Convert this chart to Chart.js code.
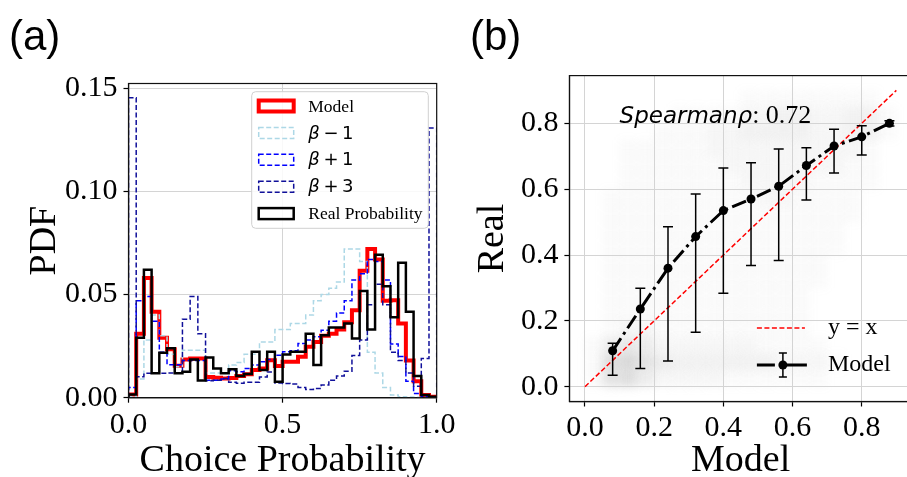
<!DOCTYPE html>
<html><head><meta charset="utf-8">
<script src="https://cdn.jsdelivr.net/npm/chart.js@4.4.1/dist/chart.umd.min.js"></script>
<style>
html,body{margin:0;padding:0;background:#fff;overflow:hidden;width:907px;height:477px;position:relative}
#ca{position:absolute;left:0;top:0}
#cb{position:absolute;left:453px;top:0}
</style></head>
<body>
<canvas id="ca"></canvas><canvas id="cb"></canvas>
<script>
// ---------------- Panel (a) data: 40-bin step histograms ----------------
const binEdges = [0,0.025,0.05,0.075,0.1,0.125,0.15,0.175,0.2,0.225,0.25,0.275,0.3,0.325,0.35,0.375,0.4,0.425,0.45,0.475,0.5,
  0.525,0.55,0.575,0.6,0.625,0.65,0.675,0.7,0.725,0.75,0.775,0.8,0.825,0.85,0.875,0.9,0.925,0.95,0.975,1.0];
const histModel = [0.0015,0.031,0.058,0.0416,0.029,0.0235,0.0155,0.0185,0.019,0.019,0.010,0.0097,0.0093,0.0095,0.0105,0.0114,0.0134,0.0142,0.0182,0.0153,
  0.0174,0.0174,0.0198,0.0247,0.027,0.030,0.031,0.033,0.0365,0.0424,0.0615,0.072,0.067,0.047,0.0472,0.036,0.018,0.008,0.0013,0.0005];
const histBetaM1 = [0.0005,0.009,0.028,0.040,0.030,0.021,0.015,0.023,0.023,0.023,0.012,0.012,0.0118,0.0158,0.017,0.021,0.021,0.027,0.027,0.033,
  0.033,0.036,0.036,0.040,0.047,0.050,0.053,0.056,0.072,0.072,0.066,0.022,0.012,0.005,0.0013,0.0005,0.0003,0.0002,0.0001,0.0001];
const histBetaP1 = [0.005,0.047,0.049,0.037,0.022,0.016,0.016,0.018,0.018,0.018,0.0085,0.0085,0.009,0.013,0.0126,0.0142,0.0158,0.0174,0.0185,0.0206,
  0.0222,0.0227,0.0263,0.028,0.0295,0.0327,0.037,0.041,0.047,0.057,0.060,0.067,0.066,0.057,0.026,0.020,0.008,0.002,0.0005,0.0002];
const histBetaP3 = [0.1453,0.0102,0.0118,0.0118,0.0118,0.012,0.012,0.038,0.049,0.031,0.0082,0.0085,0.0093,0.0075,0.007,0.0075,0.0075,0.010,0.0125,0.0071,
  0.0069,0.0066,0.005,0.004,0.0045,0.0062,0.0085,0.0105,0.0128,0.0205,0.028,0.045,0.055,0.045,0.022,0.018,0.012,0.0055,0.019,0.1306];
const histReal = [0.0015,0.029,0.062,0.0118,0.0218,0.0239,0.0118,0.0126,0.0185,0.0083,0.0195,0.0142,0.0118,0.0138,0.0105,0.0115,0.0222,0.0134,0.0222,0.0077,
  0.0209,0.0222,0.0222,0.031,0.0158,0.0303,0.034,0.034,0.036,0.0287,0.0517,0.033,0.0693,0.054,0.039,0.0654,0.0416,0.0105,0.0013,0.0005];
const pdfTicks = [0, 0.05, 0.10, 0.15];
const pdfTickLabels = ['0.00','0.05','0.10','0.15'];
const probTicks = [0, 0.5, 1.0];
const probTickLabels = ['0.0','0.5','1.0'];
const histLabels = ['Model','β − 1','β + 1','β + 3','Real Probability'];

// ---------------- Panel (b) data ----------------
const modelX    = [0.08,0.16,0.24,0.32,0.40,0.48,0.56,0.64,0.72,0.80,0.88];
const modelY    = [0.109,0.236,0.360,0.456,0.535,0.570,0.609,0.672,0.731,0.759,0.800];
const modelHigh = [0.132,0.299,0.486,0.585,0.664,0.680,0.722,0.726,0.782,0.793,0.808];
const modelLow  = [0.035,0.055,0.078,0.165,0.284,0.368,0.383,0.567,0.649,0.704,0.792];
const identityX = [0, 0.9];
const bTicks = [0, 0.2, 0.4, 0.6, 0.8];
const bTickLabels = ['0.0','0.2','0.4','0.6','0.8'];
const spearmanValue = '0.72';
// background scatter density (rows: y bands from 0.85-0.90 down to 0.00-0.05; cols: x bands 0.00-0.05 ... 0.85-0.90)
const cloudBandLowY = [0.85,0.80,0.75,0.70,0.65,0.60,0.55,0.50,0.45,0.40,0.35,0.30,0.25,0.20,0.15,0.10,0.05,0.00];
const cloudBandLowX = [0,0.05,0.1,0.15,0.2,0.25,0.3,0.35,0.4,0.45,0.5,0.55,0.6,0.65,0.7,0.75,0.8,0.85];
const cloudDensity = [
 [0,0,0,0,0,0,0,0,0,1,1,1,1,1,1,1,1,0],
 [0,0,0,0,0,1,1,1,1,2,2,3,3,2,2,3,3,1],
 [0,0,0,0,1,1,1,2,2,3,3,3,3,2,2,3,3,1],
 [0,0,1,1,1,1,1,2,2,2,2,2,2,2,2,2,1,0],
 [0,0,1,1,1,1,1,1,2,2,2,2,2,2,2,1,1,0],
 [0,0,1,1,1,1,1,1,1,2,2,2,2,1,1,1,1,0],
 [0,1,1,1,1,1,1,1,1,1,2,2,1,1,1,1,0,0],
 [0,1,1,1,1,1,1,1,1,1,1,1,1,1,1,1,0,0],
 [0,1,1,1,1,1,1,1,1,1,1,1,1,1,1,0,0,0],
 [0,1,1,1,1,1,1,1,1,1,1,1,1,1,1,0,0,0],
 [0,1,1,1,1,1,1,1,1,1,1,1,1,1,0,0,0,0],
 [0,1,1,1,1,1,1,1,1,1,1,1,1,1,0,0,0,0],
 [0,1,1,1,1,1,1,1,1,1,1,1,1,0,0,0,0,0],
 [0,1,1,1,1,1,1,1,1,1,1,1,1,0,0,0,0,0],
 [0,1,2,2,1,1,1,1,1,1,1,1,1,0,0,0,0,0],
 [1,4,5,4,2,2,2,2,2,2,1,1,1,1,0,0,0,0],
 [1,7,8,6,4,3,3,3,3,3,3,2,2,2,1,0,0,0],
 [1,6,7,4,2,2,2,2,1,1,1,1,1,1,0,0,0,0]
];

// ---------------- helpers ----------------
const SERIF = "'Liberation Serif','Times New Roman',serif";
const SANS = "'Liberation Sans',Arial,sans-serif";
const DJV = "'DejaVu Sans',sans-serif";
const GRID = '#d4d4d4';

function setup(id, w, h){
  const c = document.getElementById(id);
  c.width = w; c.height = h; c.style.width = w+'px'; c.style.height = h+'px';
  return c;
}
function stepPoints(vals){
  const n = binEdges.length - 1;
  const pts = [{x: binEdges[0], y: 0}];
  vals.forEach((v,i) => pts.push({x: binEdges[i], y: v}));
  pts.push({x: binEdges[n], y: vals[n-1]});
  pts.push({x: binEdges[n], y: 0});
  return pts;
}
function histDS(label, vals, color, width, dash, order){
  return {label, data: stepPoints(vals), borderColor: color, borderWidth: width, borderDash: dash,
    stepped: 'before', pointRadius: 0, fill: false, tension: 0, order,
    borderJoinStyle: 'miter', borderCapStyle: 'butt'};
}
function axisCommon(ticks, labels, font){
  return {
    type: 'linear',
    afterBuildTicks: s => { s.ticks = ticks.map(v => ({value: v})); },
    ticks: {callback: (v, i) => labels[i], font: {family: SERIF, size: font}, color: '#000',
      autoSkip: false, maxRotation: 0, padding: 4},
    grid: {color: GRID, lineWidth: 1, borderDash: [4,2.5], tickLength: 5, tickColor: '#000', tickWidth: 1.2, tickBorderDash: []},
    border: {display: true, color: '#111', width: 1.2}
  };
}
const frame = {
  id: 'frame',
  afterDraw(chart){
    const {ctx, chartArea: a} = chart;
    ctx.save(); ctx.strokeStyle = '#111'; ctx.lineWidth = 1.2;
    ctx.strokeRect(a.left, a.top, a.right - a.left, a.bottom - a.top);
    ctx.restore();
  }
};

// ---------------- Panel (a) ----------------
const legendA = {
  id: 'legendA',
  afterDraw(chart){
    const {ctx, chartArea: a} = chart;
    const x0 = a.right - 185, y0 = a.top + 8.2, w = 176.6, h = 136.6, r = 4;
    ctx.save();
    ctx.beginPath();
    ctx.moveTo(x0+r, y0); ctx.lineTo(x0+w-r, y0); ctx.quadraticCurveTo(x0+w, y0, x0+w, y0+r);
    ctx.lineTo(x0+w, y0+h-r); ctx.quadraticCurveTo(x0+w, y0+h, x0+w-r, y0+h);
    ctx.lineTo(x0+r, y0+h); ctx.quadraticCurveTo(x0, y0+h, x0, y0+h-r);
    ctx.lineTo(x0, y0+r); ctx.quadraticCurveTo(x0, y0, x0+r, y0); ctx.closePath();
    ctx.fillStyle = 'rgba(255,255,255,0.85)'; ctx.fill();
    ctx.strokeStyle = '#d0d0d0'; ctx.lineWidth = 1; ctx.stroke();
    const styles = [
      {c:'#ff0000', w:4, d:[]},
      {c:'#add8e6', w:1.5, d:[5,2.5]},
      {c:'#0000ff', w:1.5, d:[5,2.5]},
      {c:'#10109a', w:1.5, d:[5,2.5]},
      {c:'#000000', w:2.5, d:[]}
    ];
    styles.forEach((s, k) => {
      const cy = y0 + 14.3 + k*26.9;
      ctx.strokeStyle = s.c; ctx.lineWidth = s.w; ctx.setLineDash(s.d);
      ctx.strokeRect(x0 + 7, cy - 5.5, 35, 11);
      ctx.setLineDash([]);
      ctx.fillStyle = '#000'; ctx.textBaseline = 'middle'; ctx.textAlign = 'left';
      const tx = x0 + 56.6;
      const lab = histLabels[k];
      if (lab.startsWith('β')) {
        ctx.font = 'italic 18px ' + DJV;
        ctx.fillText('β', tx, cy + 1);
        const bw = ctx.measureText('β').width;
        ctx.font = '18px ' + DJV;
        ctx.fillText(lab.slice(1).replace(/ /g, '\u2009'), tx + bw, cy + 1);
      } else {
        ctx.font = '17.5px ' + SERIF;
        ctx.fillText(lab, tx, cy + 1);
      }
    });
    ctx.restore();
  }
};
const titlesA = {
  id: 'titlesA',
  afterDraw(chart){
    const {ctx, chartArea: a} = chart;
    ctx.save(); ctx.fillStyle = '#000';
    ctx.font = '38px ' + SERIF; ctx.textAlign = 'center'; ctx.textBaseline = 'alphabetic';
    ctx.fillText('Choice Probability', (a.left + a.right)/2, 471);
    ctx.translate(55, (a.top + a.bottom)/2); ctx.rotate(-Math.PI/2);
    ctx.fillText('PDF', 0, 0);
    ctx.restore();
    ctx.save(); ctx.fillStyle = '#000'; ctx.font = '42px ' + SANS; ctx.textAlign = 'left';
    ctx.fillText('(a)', 9, 50);
    ctx.restore();
  }
};

const WA = 480;
const xa = axisCommon(probTicks, probTickLabels, 30);
xa.min = 0; xa.max = 1; xa.afterFit = s => { s.height = 477 - 397.7; };
const ya = axisCommon(pdfTicks, pdfTickLabels, 30);
ya.min = 0; ya.max = 0.1522; ya.afterFit = s => { s.width = 128.5; }; ya.ticks.padding = 6;

new Chart(setup('ca', WA, 477), {
  type: 'line',
  data: {datasets: [
    histDS('Model', histModel, '#ff0000', 4, [], 4),
    histDS('β − 1', histBetaM1, '#add8e6', 1.5, [5,2.5], 3),
    histDS('β + 1', histBetaP1, '#0000ff', 1.5, [5,2.5], 2),
    histDS('β + 3', histBetaP3, '#10109a', 1.5, [5,2.5], 1),
    histDS('Real Probability', histReal, '#000000', 2.5, [], 0)
  ]},
  options: {
    responsive: false, devicePixelRatio: 1, animation: false,
    layout: {padding: {left: 0, right: WA - 436.7, top: 83.5, bottom: 0}},
    plugins: {legend: {display: false}, tooltip: {enabled: false}},
    scales: {x: xa, y: ya}
  },
  plugins: [frame, legendA, titlesA]
});

// ---------------- Panel (b) ----------------
const cloud = {
  id: 'cloud',
  beforeDraw(chart){
    const {ctx, chartArea: a, scales} = chart;
    ctx.save();
    ctx.beginPath(); ctx.rect(a.left, a.top, a.right - a.left, a.bottom - a.top); ctx.clip();
    ctx.filter = 'blur(5px)';
    cloudDensity.forEach((row, r) => row.forEach((d, c) => {
      if (!d) return;
      const x1 = scales.x.getPixelForValue(cloudBandLowX[c]);
      const x2 = scales.x.getPixelForValue(cloudBandLowX[c] + 0.05);
      const y1 = scales.y.getPixelForValue(cloudBandLowY[r] + 0.05);
      const y2 = scales.y.getPixelForValue(cloudBandLowY[r]);
      ctx.fillStyle = 'rgba(150,150,150,' + (d*0.046) + ')';
      ctx.fillRect(x1, y1, x2 - x1, y2 - y1);
    }));
    ctx.restore();
  }
};
const errorBars = {
  id: 'errorBars',
  beforeDatasetDraw(chart, args){
    if (args.index !== 1) return;
    const {ctx, scales} = chart;
    ctx.save(); ctx.strokeStyle = '#000'; ctx.lineWidth = 1.5;
    modelX.forEach((x, i) => {
      const px = scales.x.getPixelForValue(x);
      const hi = scales.y.getPixelForValue(modelHigh[i]);
      const lo = scales.y.getPixelForValue(modelLow[i]);
      ctx.beginPath(); ctx.moveTo(px, hi); ctx.lineTo(px, lo);
      ctx.moveTo(px - 5, hi); ctx.lineTo(px + 5, hi);
      ctx.moveTo(px - 5, lo); ctx.lineTo(px + 5, lo);
      ctx.stroke();
    });
    ctx.restore();
  }
};
const decorB = {
  id: 'decorB',
  afterDraw(chart){
    const {ctx, chartArea: a, scales} = chart;
    ctx.save(); ctx.fillStyle = '#000';
    // Spearman annotation at data (0.1, 0.8)
    const sx = scales.x.getPixelForValue(0.1), sy = scales.y.getPixelForValue(0.8);
    ctx.textBaseline = 'alphabetic'; ctx.textAlign = 'left';
    ctx.font = 'italic 23px ' + DJV;
    ctx.fillText('Spearmanρ', sx, sy);
    const w1 = ctx.measureText('Spearmanρ').width;
    ctx.font = '26px ' + SERIF;
    ctx.fillText(': ' + spearmanValue, sx + w1, sy);
    // legend
    const hx = a.right - 155, tx = a.right - 84;
    const r1 = a.bottom - 73.5, r2 = a.bottom - 36.5;
    ctx.strokeStyle = '#ff0000'; ctx.lineWidth = 1.5; ctx.setLineDash([5,2.5]);
    ctx.beginPath(); ctx.moveTo(hx, r1); ctx.lineTo(hx + 48, r1); ctx.stroke();
    ctx.setLineDash([]);
    ctx.strokeStyle = '#000'; ctx.lineWidth = 3;
    ctx.beginPath(); ctx.moveTo(hx, r2); ctx.lineTo(hx + 18, r2); ctx.moveTo(hx + 30, r2); ctx.lineTo(hx + 50, r2); ctx.stroke();
    ctx.lineWidth = 1.5;
    ctx.beginPath(); ctx.moveTo(hx + 26, r2 - 12); ctx.lineTo(hx + 26, r2 + 12);
    ctx.moveTo(hx + 22, r2 - 12); ctx.lineTo(hx + 30, r2 - 12);
    ctx.moveTo(hx + 22, r2 + 12); ctx.lineTo(hx + 30, r2 + 12); ctx.stroke();
    ctx.beginPath(); ctx.arc(hx + 26, r2, 4.5, 0, Math.PI*2); ctx.fill();
    ctx.font = '24px ' + SERIF; ctx.textBaseline = 'middle';
    ctx.fillText('y = x', tx, r1);
    ctx.fillText('Model', tx, r2);
    // axis titles
    ctx.font = '38px ' + SERIF; ctx.textAlign = 'center'; ctx.textBaseline = 'alphabetic';
    ctx.fillText('Model', (a.left + a.right)/2, 471);
    ctx.save(); ctx.translate(503 - 453, (a.top + a.bottom)/2); ctx.rotate(-Math.PI/2);
    ctx.fillText('Real', 0, 0); ctx.restore();
    ctx.font = '42px ' + SANS; ctx.textAlign = 'left';
    ctx.fillText('(b)', 470 - 453, 50);
    ctx.restore();
  }
};

const xb = axisCommon(bTicks, bTickLabels, 30);
xb.min = -0.045; xb.max = 0.945; xb.afterFit = s => { s.height = 477 - 401.5; };
const yb = axisCommon(bTicks, bTickLabels, 30);
yb.min = -0.045; yb.max = 0.945; yb.afterFit = s => { s.width = 569.4 - 453; }; yb.ticks.padding = 6;

new Chart(setup('cb', 470, 477), {
  type: 'line',
  data: {datasets: [
    {label: 'y = x', data: identityX.map(v => ({x: v, y: v})), borderColor: '#ff0000', borderWidth: 1.5,
      borderDash: [5,2.5], pointRadius: 0, fill: false, order: 1},
    {label: 'Model', data: modelX.map((x, i) => ({x, y: modelY[i]})), borderColor: '#000', borderWidth: 3,
      borderDash: [15,4.5,3,4.5], pointRadius: 4.5, pointBackgroundColor: '#000', pointBorderColor: '#000',
      pointBorderWidth: 0, fill: false, tension: 0, order: 0}
  ]},
  options: {
    responsive: false, devicePixelRatio: 1, animation: false,
    layout: {padding: {left: 0, right: 470 - 911.9 + 453, top: 75.6, bottom: 0}},
    plugins: {legend: {display: false}, tooltip: {enabled: false}},
    scales: {x: xb, y: yb}
  },
  plugins: [cloud, errorBars, frame, decorB]
});
</script>
</body></html>
